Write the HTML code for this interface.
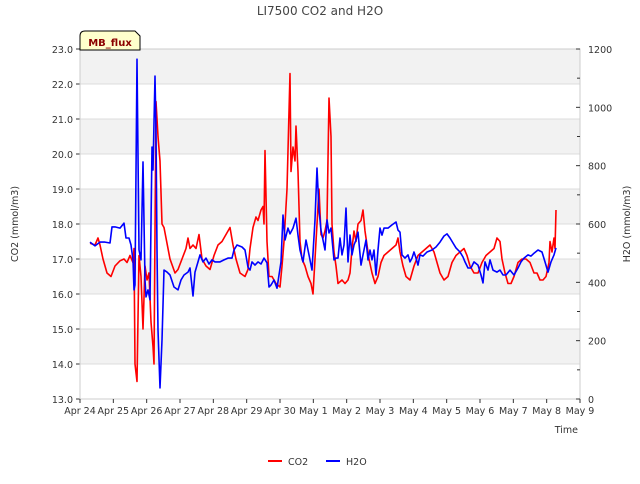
<!DOCTYPE html>
<html><head><meta charset="utf-8"><style>
body{margin:0;background:#fff;font-family:"DejaVu Sans",sans-serif}
svg text{font-family:"DejaVu Sans",sans-serif}
</style></head><body>
<svg id="c" width="640" height="480"></svg>
<script>
const dayLabels=["Apr 24","Apr 25","Apr 26","Apr 27","Apr 28","Apr 29","Apr 30","May 1","May 2","May 3","May 4","May 5","May 6","May 7","May 8","May 9"];
const co2Ticks=[13,14,15,16,17,18,19,20,21,22,23];
const h2oTicks=[0,200,400,600,800,1000,1200];
const co2X=[90,95,98,100,103,107,111,115,120,124,127,130,133,134,135,137,139,141,143,145,147,149,151,153,154,156,158,160,162,164,166,170,175,178,182,186,188,190,193,196,199,202,206,210,214,218,222,226,230,233,236,240,245,248,250,253,256,258,261,263,264,265,267,269,272,276,280,282,284,287,290,291,293,295,296,298,300,302,305,308,311,313,315,317,319,321,323,325,327,329,331,332,334,336,338,342,345,348,350,352,354,356,358,361,363,365,367,369,372,375,378,381,384,388,392,396,398,400,403,406,410,414,418,422,426,430,434,437,440,444,448,452,456,460,464,467,470,474,478,482,486,490,494,497,500,502,505,508,511,514,518,522,526,530,534,537,540,543,546,549,550,552,554,555,556];
const co2Val=[17.45,17.4,17.6,17.4,17.0,16.6,16.5,16.8,16.95,17.0,16.9,17.1,16.9,17.3,14.0,13.5,17.1,16.5,15.0,16.8,16.4,16.6,15.2,14.5,14.0,21.5,20.5,19.8,18.0,17.9,17.6,17.0,16.6,16.7,17.0,17.3,17.6,17.3,17.4,17.3,17.7,17.0,16.8,16.7,17.1,17.4,17.5,17.7,17.9,17.4,17.0,16.6,16.5,16.7,17.3,17.9,18.2,18.1,18.4,18.5,18.0,20.1,17.5,16.5,16.5,16.3,16.2,16.8,17.5,19.0,22.3,19.5,20.2,19.8,20.8,19.5,17.5,17.0,16.8,16.5,16.3,16.0,17.0,18.0,19.0,17.7,17.6,17.8,18.1,21.6,20.5,18.0,17.2,16.8,16.3,16.4,16.3,16.4,16.6,17.3,17.8,17.5,18.0,18.1,18.4,17.8,17.4,17.0,16.6,16.3,16.5,16.9,17.1,17.2,17.3,17.4,17.6,17.2,16.8,16.5,16.4,16.8,17.1,17.2,17.3,17.4,17.2,16.9,16.6,16.4,16.5,16.9,17.1,17.2,17.3,17.1,16.8,16.6,16.6,16.9,17.1,17.2,17.3,17.6,17.5,17.0,16.6,16.3,16.3,16.5,16.9,17.0,17.0,16.9,16.6,16.6,16.4,16.4,16.5,16.9,17.5,17.2,17.6,17.3,18.4];
const h2oX=[90,95,100,105,110,112,115,120,124,126,129,131,133,134,135,137,139,141,143,145,146,148,150,152,153,155,156,157,158,160,162,164,167,170,174,178,181,184,188,190,193,195,198,200,203,206,209,212,215,220,224,228,232,234,237,242,245,248,250,252,255,258,261,264,267,269,271,274,277,279,281,283,285,288,290,293,296,298,300,303,306,309,312,315,317,319,321,323,325,327,329,331,334,336,338,340,342,344,346,348,350,352,354,356,358,361,363,366,368,370,372,374,376,378,380,382,384,388,392,396,398,400,402,405,408,410,412,414,416,418,420,423,427,432,436,440,444,447,450,453,456,460,463,465,468,471,474,478,481,483,485,488,490,493,497,500,503,506,510,514,518,521,524,528,531,534,538,542,545,548,551,554,556];
const h2oVal=[538,525,538,538,535,590,590,586,603,552,552,528,477,374,391,1165,511,477,813,408,350,374,340,864,785,1107,922,511,237,38,202,442,435,425,384,374,408,425,435,449,353,435,470,494,470,483,463,477,470,470,477,483,483,511,528,521,511,452,442,470,459,470,463,483,467,384,391,408,380,425,470,631,545,586,566,586,620,562,511,470,545,494,442,614,792,648,579,545,511,614,569,586,477,483,483,552,494,528,655,470,562,494,528,545,572,459,494,545,477,511,477,511,425,511,586,562,586,586,597,607,579,572,494,483,494,470,483,504,483,459,494,490,504,511,521,538,559,566,552,535,518,504,487,470,449,449,470,459,425,398,470,442,477,442,435,442,425,425,442,425,449,470,483,494,490,500,511,504,470,435,470,494,518];
</script>
<script>
const NS="http://www.w3.org/2000/svg";
const svg=document.getElementById('c');
const L=80,R=580,T=49,B=399;
const xd=d=>L+d*(R-L)/15;
const pxToDay=p=>(p-80)/((R-L)/15);
const yc=v=>B-(v-13)*(B-T)/10;
const yh=v=>B-v*(B-T)/1200;
function mk(tag,attrs,parent){const e=document.createElementNS(NS,tag);for(const k in attrs)e.setAttribute(k,attrs[k]);(parent||svg).appendChild(e);return e;}
function txt(s,x,y,anchor,size,fill,name,rot){const t=mk('text',{x:x,y:y,'text-anchor':anchor,'font-size':size,fill:fill});if(rot)t.setAttribute('transform',`rotate(-90 ${x} ${y})`);t.textContent=s;


return t;}
for(let v=13;v<23;v++){
  if((22-v)%2===0){const r=mk('rect',{x:L,y:yc(v+1),width:R-L,height:yc(v)-yc(v+1),fill:'#f2f2f2'});
  
  }
}
co2Ticks.forEach(v=>{const l=mk('line',{x1:L,x2:R,y1:yc(v),y2:yc(v),stroke:'#dcdcdc','stroke-width':1});


mk('line',{x1:L-4,x2:L,y1:yc(v),y2:yc(v),stroke:'#333'});
txt(v.toFixed(1),L-7,yc(v)+4,'end',9.5,'#333','y-tick-label');});
const fr=mk('rect',{x:L,y:T,width:R-L,height:B-T,fill:'none',stroke:'#ccc'});


h2oTicks.forEach(v=>{mk('line',{x1:R-4,x2:R,y1:yh(v),y2:yh(v),stroke:'#333'});
txt(String(v),R+8,yh(v)+4,'start',9.5,'#333','y2-tick-label');});
for(let v=100;v<1200;v+=200)mk('line',{x1:R-3,x2:R,y1:yh(v),y2:yh(v),stroke:'#333'});
dayLabels.forEach((s,i)=>{mk('line',{x1:xd(i),x2:xd(i),y1:B,y2:B+4,stroke:'#333'});txt(s,xd(i),B+15,'middle',9.5,'#333','x-tick-label');});
function series(xs,vs,yf,col,name){const d=xs.map((p,i)=>(i?'L':'M')+xd(pxToDay(p)).toFixed(1)+','+yf(vs[i]).toFixed(1)).join('');
const p=mk('path',{d:d,fill:'none',stroke:col,'stroke-width':1.6,'stroke-linejoin':'round'});

}
series(co2X,co2Val,yc,'#ff0000','co2-line');
series(h2oX,h2oVal,yh,'#0000ff','h2o-line');
txt('LI7500 CO2 and H2O',320,15,'middle',12,'#444','chart-title');
txt('CO2 (mmol/m3)',18,224,'middle',9.5,'#333','y-axis-title',true);
txt('H2O (mmol/m3)',630,224,'middle',9.5,'#333','y2-axis-title',true);
txt('Time',578,433,'end',9.5,'#333','x-axis-title');
const bx=mk('path',{d:'M80,50 L80,36 Q80,31 85,31 L135,31 L140,36 L140,50 Z',fill:'#ffffcc',stroke:'#000'});


const mb=txt('MB_flux',110,46,'middle',10,'#8b0000','site-label');mb.setAttribute('font-weight','bold');
mk('line',{x1:268,x2:282,y1:461,y2:461,stroke:'#ff0000','stroke-width':2});
txt('CO2',288,465,'start',9.5,'#333','legend-co2');
mk('line',{x1:326,x2:340,y1:461,y2:461,stroke:'#0000ff','stroke-width':2});
txt('H2O',346,465,'start',9.5,'#333','legend-h2o');
</script>
</body></html>
